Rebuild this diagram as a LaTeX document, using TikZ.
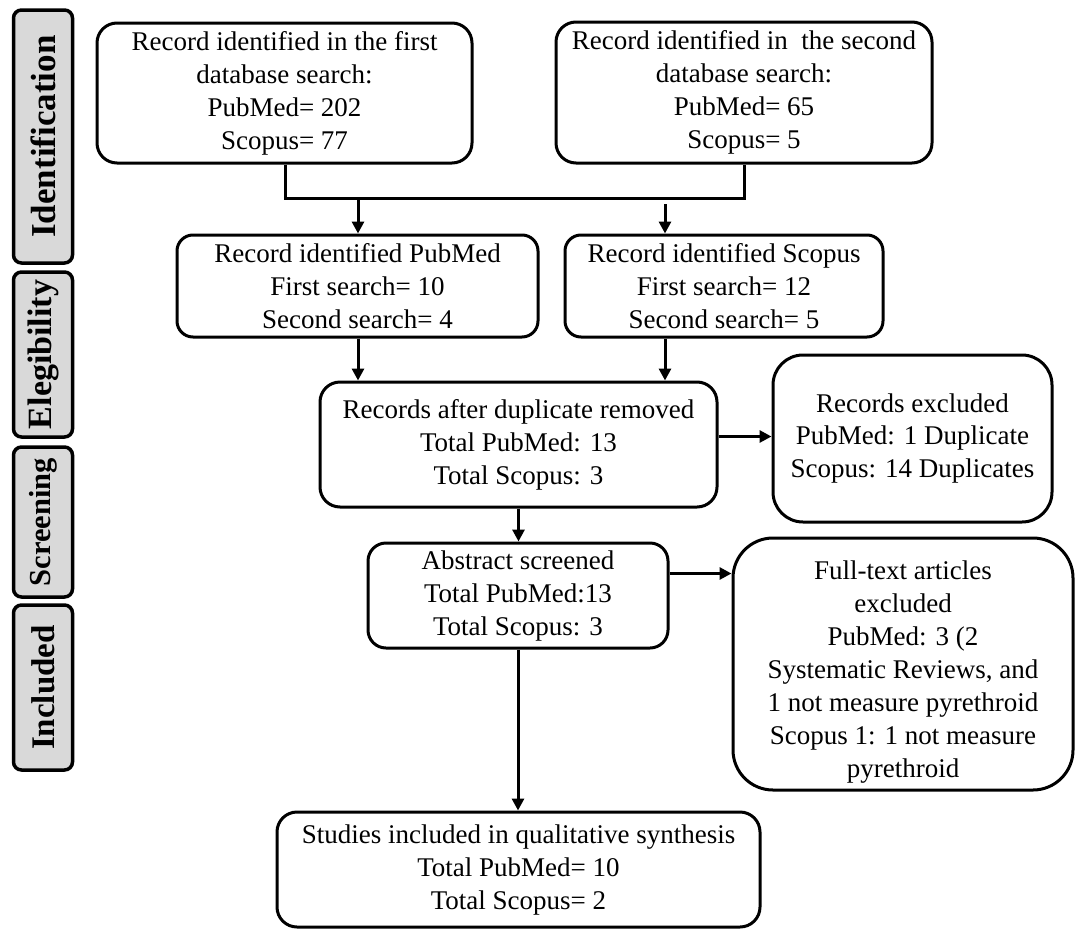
\documentclass[tikz,border=0pt]{standalone}
\usepackage{fontspec}
\setmainfont{Liberation Serif}
\usetikzlibrary{arrows.meta}
\definecolor{sidegray}{RGB}{217,217,217}
\begin{document}
\begin{tikzpicture}[x=1pt,y=-1pt,
  box/.style={draw=black, line width=3pt, rounded corners=20pt, align=center,
    inner sep=0pt, font=\fontsize{27}{33}\selectfont},
  txt/.style={align=center, inner sep=0pt, font=\fontsize{27}{33}\selectfont},
  side/.style={draw=black, line width=3.5pt, fill=sidegray, rounded corners=8pt,
    inner sep=0pt},
  sidetxt/.style={rotate=90, font=\fontsize{32}{36}\selectfont\bfseries},
  arr/.style={line width=3pt, -{Triangle[length=12pt,width=12pt]}},
  conn/.style={line width=3pt}
]
\useasboundingbox (0,0) rectangle (1084,937);

% side labels
\node[side, minimum width=59pt, minimum height=253pt] (sid) at (43,136.5) {};
\node[sidetxt, font=\fontsize{35}{38}\selectfont\bfseries] (sidt) at (sid.center) {Identification};
\node[side, minimum width=59pt, minimum height=165pt] (sel) at (43,354.5) {};
\node[sidetxt, font=\fontsize{34}{38}\selectfont\bfseries] (selt) at (sel.center) {Elegibility};
\node[side, minimum width=59pt, minimum height=150pt] (ssc) at (43,522) {};
\node[sidetxt, font=\fontsize{30.5}{36}\selectfont\bfseries] (ssct) at (ssc.center) {Screening};
\node[side, minimum width=59pt, minimum height=165pt] (sin) at (43,687.5) {};
\node[sidetxt, font=\fontsize{33}{36}\selectfont\bfseries] (sint) at (sin.center) {Included};

% boxes
\node[box, minimum width=375pt, minimum height=140pt] (b1) at (284.5,93)
  {Record identified in the first\\database search:\\PubMed= 202\\Scopus= 77};
\node[box, minimum width=376pt, minimum height=141pt] (b2) at (744,92.5)
  {Record identified in \ the second\\database search:\\PubMed= 65\\Scopus= 5};
\node[box, rounded corners=16pt, minimum width=361pt, minimum height=102pt] (b3) at (357.5,286)
  {Record identified PubMed\\First search= 10\\Second search= 4};
\node[box, rounded corners=16pt, minimum width=318pt, minimum height=102pt] (b4) at (724,286)
  {Record identified Scopus\\First search= 12\\Second search= 5};
\node[box, minimum width=397pt, minimum height=125pt] (b5) at (518.5,444.5)
  {Records after duplicate removed\\Total PubMed: 13\\Total Scopus: 3};
\node[box, rounded corners=30pt, minimum width=279pt, minimum height=167pt] (b6) at (912.5,438.5)
  {Records excluded\\PubMed: 1 Duplicate\\Scopus: 14 Duplicates};
\node[box, rounded corners=18pt, minimum width=300pt, minimum height=105pt] (b7) at (518,595.5)
  {Abstract screened\\Total PubMed:13\\Total Scopus: 3};
\node[box, rounded corners=40pt, minimum width=340pt, minimum height=252pt] (b8) at (903,664) {};
\node[txt] (b8t) at (903,672)
  {Full-text articles\\excluded\\PubMed: 3 (2\\Systematic Reviews, and\\1 not measure pyrethroid\\Scopus 1: 1 not measure\\pyrethroid};
\node[box, minimum width=483pt, minimum height=115pt] (b9) at (518.5,869.5)
  {Studies included in qualitative synthesis\\Total PubMed= 10\\Total Scopus= 2};

% connectors
\coordinate (j) at (285,198);
\coordinate (j1) at (358,198);
\coordinate (j2) at (665,204);
\draw[conn] (b1.south -| j) -- (j) -| (b2.south);
\draw[arr] (j1) -- (j1 |- b3.north);
\draw[arr] (j2) -- (j2 |- b4.north);
\draw[arr] (b3.south -| j1) -- (j1 |- b5.north);
\draw[arr] (j2 |- b4.south) -- (j2 |- b5.north);
\draw[arr] ([yshift=8pt]b5.east) -- ([yshift=8pt]b5.east -| b6.west);
\draw[arr] (b5.south) -- (b5.south |- b7.north);
\draw[arr] ([yshift=22pt]b7.east) -- ([yshift=22pt]b7.east -| b8.west);
\draw[arr] (b7.south) -- (b7.south |- b9.north);
\end{tikzpicture}
\end{document}
